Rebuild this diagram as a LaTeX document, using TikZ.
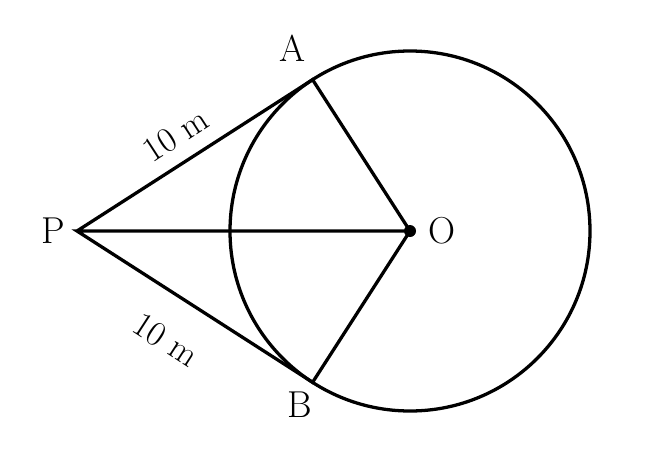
\documentclass[tikz,border=0pt]{standalone}
\begin{document}
\begin{tikzpicture}[x=0.03cm,y=-0.03cm,line width=2.8pt,
  lbl/.style={font=\fontsize{32}{36}\selectfont},
  dim/.style={font=\fontsize{30}{34}\selectfont}]
\useasboundingbox (0,0) rectangle (650,448);
\coordinate (O) at (410,231);
\coordinate (P) at (77,231);
\coordinate (A) at (312.6,79.7);
\coordinate (B) at (312.6,382.3);
\draw (O) circle[radius=180*0.03cm];
\draw (P) -- (A) -- (O) -- (B) -- (P) -- (O);
\fill (O) circle[radius=6];
\node[lbl] (lA) at (292,48) {A};
\node[lbl] (lB) at (300,405) {B};
\node[lbl] (lP) at (53,231) {P};
\node[lbl] (lO) at (442,231) {O};
\node[dim,rotate=33] (d1) at (176,135) {10 m};
\node[dim,rotate=-33] (d2) at (166,340) {10 m};
\end{tikzpicture}
\end{document}
